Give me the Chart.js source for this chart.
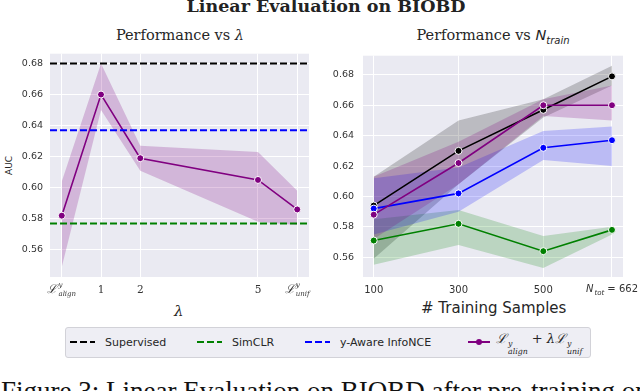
<!DOCTYPE html>
<html lang="en">

<head>
    <meta charset="UTF-8">
    <title>Linear Evaluation on BIOBD</title>
    <script src="https://cdn.jsdelivr.net/npm/chart.js"></script>
    <style>
        body {
            margin: 0;
            width: 640px;
            height: 391px;
            overflow: hidden;
            position: relative;
            background: #fff;
            font-family: "DejaVu Sans", sans-serif;
            color: #262626;
        }

        canvas {
            position: absolute;
        }

        .txt {
            position: absolute;
            white-space: nowrap;
        }

        #mainTitle {
            left: 0;
            width: 652px;
            top: -4px;
            text-align: center;
            font-family: "DejaVu Serif", serif;
            font-weight: bold;
            font-size: 17.5px;
            color: #222;
        }

        .subTitle {
            top: 27px;
            width: 300px;
            text-align: center;
            font-family: "DejaVu Serif", serif;
            font-size: 14.5px;
        }

        .ss {
            display: inline-flex;
            flex-direction: column;
            font-size: 0.6em;
            line-height: 1;
            vertical-align: -0.4em;
            margin-left: 1px;
        }

        #legend {
            position: absolute;
            left: 65px;
            top: 327px;
            width: 524px;
            height: 29px;
            background: #eeeef4;
            border: 1px solid #d2d2d8;
            border-radius: 3px;
            font-size: 11px;
        }

        .item {
            position: absolute;
            top: 6px;
            display: flex;
            align-items: center;
            height: 16px;
        }

        .swatch {
            width: 25px;
            height: 2px;
            margin-right: 10px;
        }
    </style>
</head>

<body>
    <div id="mainTitle" class="txt">Linear Evaluation on BIOBD</div>
    <div class="txt subTitle" style="left: 30px;">Performance vs <i>λ</i></div>
    <div class="txt subTitle" style="left: 343px;">Performance vs <i style="font-family: 'DejaVu Sans';">N</i><sub style="font-size: 10px;"><i style="font-family: 'DejaVu Sans';">train</i></sub></div>

    <div class="txt" style="left: 4px; top: 175px; font-size: 9px; transform: rotate(-90deg); transform-origin: 0 0;">AUC</div>
    <div class="txt" style="left: 174px; top: 302px; font-family: 'DejaVu Serif', serif; font-style: italic; font-size: 15px;">λ</div>
    <div class="txt" style="left: 421px; top: 299px; font-size: 15px;"># Training Samples</div>

    <canvas id="lambdaChart" width="315" height="260" style="left: 0; top: 41px;"></canvas>
    <canvas id="ntrainChart" width="320" height="260" style="left: 320px; top: 41px;"></canvas>

    <div id="legend">
        <div class="item" style="left: 4px;"><span class="swatch" style="background: repeating-linear-gradient(90deg, #000 0 7px, transparent 7px 10px);"></span>Supervised</div>
        <div class="item" style="left: 131px;"><span class="swatch" style="background: repeating-linear-gradient(90deg, #008000 0 7px, transparent 7px 10px);"></span>SimCLR</div>
        <div class="item" style="left: 239px;"><span class="swatch" style="background: repeating-linear-gradient(90deg, #0000ff 0 7px, transparent 7px 10px);"></span>y-Aware InfoNCE</div>
        <div class="item" style="left: 402px;">
            <span class="swatch" style="width: 22px; margin-right: 6px; background: #800080; position: relative;"><span style="position: absolute; left: 8px; top: -2px; width: 6px; height: 6px; border-radius: 3px; background: #800080;"></span></span>
            <span style="font-family: 'DejaVu Serif', serif; font-style: italic; font-size: 13px;">ℒ<span class="ss"><span>y</span><span>align</span></span> + <span>λ</span>ℒ<span class="ss"><span>y</span><span>unif</span></span></span>
        </div>
    </div>

    <div class="txt" style="left: 1px; top: 378px; line-height: 1; font-family: 'Liberation Serif', serif; font-size: 27px; color: #111;">Figure 3: Linear Evaluation on BIOBD after pre-training on</div>

    <script>
        // ---- Left panel: AUC vs lambda ----
        const lambdaX = [0, 1, 2, 5, 6];
        const lambdaTickLabels = ['L_align', '1', '2', '5', 'L_unif'];
        const oursLambda = [0.582, 0.660, 0.619, 0.605, 0.586];
        const oursLambdaHi = [0.604, 0.680, 0.627, 0.623, 0.598];
        const oursLambdaLo = [0.549, 0.650, 0.611, 0.578, 0.576];
        const supervisedAUC = 0.680;
        const simclrAUC = 0.577;
        const yAwareAUC = 0.637;

        // ---- Right panel: AUC vs N_train ----
        const nTrain = [100, 300, 500, 662];
        const nTrainTickLabels = ['100', '300', '500', 'N_tot = 662'];
        const supervised = [0.594, 0.630, 0.657, 0.679];
        const supervisedHi = [0.613, 0.650, 0.664, 0.686];
        const supervisedLo = [0.559, 0.608, 0.652, 0.673];
        const simclr = [0.571, 0.582, 0.564, 0.578];
        const simclrHi = [0.585, 0.591, 0.574, 0.580];
        const simclrLo = [0.555, 0.568, 0.553, 0.575];
        const yAware = [0.592, 0.602, 0.632, 0.637];
        const yAwareHi = [0.612, 0.619, 0.643, 0.646];
        const yAwareLo = [0.575, 0.590, 0.624, 0.620];
        const ours = [0.588, 0.622, 0.660, 0.660];
        const oursHi = [0.613, 0.636, 0.664, 0.673];
        const oursLo = [0.572, 0.608, 0.653, 0.650];

        const yTicks = [0.56, 0.58, 0.60, 0.62, 0.64, 0.66, 0.68];

        const colors = {
            supervised: '#000000',
            simclr: '#008000',
            yAware: '#0000ff',
            ours: '#800080'
        };
        const bands = {
            supervised: 'rgba(0, 0, 0, 0.2)',
            simclr: 'rgba(0, 128, 0, 0.2)',
            yAware: 'rgba(0, 0, 255, 0.2)',
            ours: 'rgba(128, 0, 128, 0.22)'
        };

        const pts = (xs, ys) => xs.map((x, i) => ({ x: x, y: ys[i] }));

        // grey seaborn background behind the grid
        const bgPlugin = {
            id: 'bg',
            beforeDraw(chart) {
                const { ctx, chartArea: a } = chart;
                ctx.save();
                ctx.fillStyle = '#eaeaf2';
                ctx.fillRect(a.left, a.top, a.width, a.height);
                ctx.restore();
            }
        };

        // draws a label like "L^y_align" or "N_tot = 662", centred on cx
        function drawMath(ctx, cx, y, base, sup, sub, rest, baseFont, smallFont) {
            ctx.font = baseFont;
            const wBase = ctx.measureText(base).width;
            ctx.font = smallFont;
            const wSmall = Math.max(ctx.measureText(sup).width, ctx.measureText(sub).width);
            ctx.font = '10px "DejaVu Sans"';
            const wRest = ctx.measureText(rest).width;
            let x = cx - (wBase + wSmall + wRest + 1) / 2;
            ctx.textAlign = 'left';
            ctx.textBaseline = 'alphabetic';
            ctx.font = baseFont;
            ctx.fillText(base, x, y);
            x += wBase + 1;
            ctx.font = smallFont;
            if (sup) ctx.fillText(sup, x, y - 6);
            ctx.fillText(sub, x, y + 3);
            x += wSmall;
            ctx.font = '10px "DejaVu Sans"';
            ctx.fillText(rest, x, y);
        }

        // tick labels with sub/superscripts, which the plain tick callback can't render
        function mathTicks(labels) {
            return {
                id: 'mathTicks',
                afterDraw(chart) {
                    const ctx = chart.ctx;
                    const xs = chart.scales.x;
                    const y = chart.chartArea.bottom + 16;
                    ctx.save();
                    ctx.fillStyle = '#333';
                    xs.ticks.forEach((t, i) => {
                        const lab = labels[i];
                        if (!lab || lab.indexOf('_') < 0) return;
                        const px = xs.getPixelForValue(t.value);
                        if (lab.startsWith('L_')) {
                            drawMath(ctx, px, y, 'ℒ', 'y', lab.slice(2), '',
                                'italic 12px "DejaVu Serif"', 'italic 7px "DejaVu Serif"');
                        } else {
                            const parts = lab.split(' = ');
                            drawMath(ctx, px, y - 1, 'N', '', parts[0].slice(2), ' = ' + parts[1],
                                'italic 10px "DejaVu Sans"', 'italic 7px "DejaVu Sans"');
                        }
                    });
                    ctx.restore();
                }
            };
        }

        function makeOptions(xMin, xMax, xTicks, xLabels, xFont, yMin, yMax, yWidth, yPad, padRight) {
            return {
                responsive: false,
                animation: false,
                layout: { padding: { top: 8, right: padRight, bottom: 0, left: 0 } },
                plugins: { legend: { display: false }, tooltip: { enabled: false } },
                scales: {
                    x: {
                        type: 'linear',
                        min: xMin,
                        max: xMax,
                        afterBuildTicks: s => { s.ticks = xTicks.map(v => ({ value: v })); },
                        afterFit: s => { s.height = 24; },
                        grid: { color: '#ffffff', lineWidth: 1, drawTicks: false },
                        border: { display: false },
                        ticks: {
                            padding: 7,
                            color: '#333',
                            font: xFont,
                            maxRotation: 0,
                            autoSkip: false,
                            callback: (v, i) => (xLabels[i].indexOf('_') >= 0 ? '' : xLabels[i])
                        }
                    },
                    y: {
                        min: yMin,
                        max: yMax,
                        afterBuildTicks: s => { s.ticks = yTicks.map(v => ({ value: v })); },
                        afterFit: s => { s.width = yWidth; },
                        grid: { color: '#ffffff', lineWidth: 1, drawTicks: false },
                        border: { display: false },
                        ticks: {
                            padding: yPad,
                            color: '#333',
                            font: { family: 'DejaVu Sans', size: 9.5 },
                            callback: v => v.toFixed(2)
                        }
                    }
                }
            };
        }

        function bandSets(xs, hi, lo, color, order) {
            return [
                { data: pts(xs, hi), fill: '+1', backgroundColor: color, borderWidth: 0, pointRadius: 0, order: order },
                { data: pts(xs, lo), fill: false, borderWidth: 0, pointRadius: 0, order: order }
            ];
        }

        function meanSet(xs, ys, color, order) {
            return {
                data: pts(xs, ys), borderColor: color, borderWidth: 1.6, fill: false,
                pointRadius: 3.5, pointBackgroundColor: color, pointBorderColor: '#ffffff',
                pointBorderWidth: 1, order: order
            };
        }

        function hLine(value, color, xMin, xMax) {
            return {
                data: [{ x: xMin, y: value }, { x: xMax, y: value }], borderColor: color,
                borderWidth: 2, borderDash: [7, 3], pointRadius: 0, fill: false, order: 1
            };
        }

        const lamMin = -0.3, lamMax = 6.3;
        new Chart(document.getElementById('lambdaChart'), {
            type: 'line',
            data: {
                datasets: [
                    ...bandSets(lambdaX, oursLambdaHi, oursLambdaLo, bands.ours, 10),
                    meanSet(lambdaX, oursLambda, colors.ours, 2),
                    hLine(supervisedAUC, colors.supervised, lamMin, lamMax),
                    hLine(simclrAUC, colors.simclr, lamMin, lamMax),
                    hLine(yAwareAUC, colors.yAware, lamMin, lamMax)
                ]
            },
            options: makeOptions(lamMin, lamMax, lambdaX, lambdaTickLabels,
                { family: 'DejaVu Serif', size: 10.5 }, 0.5425, 0.6863, 50, 7, 6),
            plugins: [bgPlugin, mathTicks(lambdaTickLabels)]
        });

        new Chart(document.getElementById('ntrainChart'), {
            type: 'line',
            data: {
                datasets: [
                    ...bandSets(nTrain, supervisedHi, supervisedLo, bands.supervised, 14),
                    ...bandSets(nTrain, simclrHi, simclrLo, bands.simclr, 13),
                    ...bandSets(nTrain, yAwareHi, yAwareLo, bands.yAware, 12),
                    ...bandSets(nTrain, oursHi, oursLo, bands.ours, 11),
                    meanSet(nTrain, supervised, colors.supervised, 4),
                    meanSet(nTrain, simclr, colors.simclr, 3),
                    meanSet(nTrain, yAware, colors.yAware, 2),
                    meanSet(nTrain, ours, colors.ours, 1)
                ]
            },
            options: makeOptions(74.7, 688, nTrain, nTrainTickLabels,
                { family: 'DejaVu Sans', size: 10 }, 0.547, 0.6926, 43, 9, 17),
            plugins: [bgPlugin, mathTicks(nTrainTickLabels)]
        });
    </script>
</body>

</html>
